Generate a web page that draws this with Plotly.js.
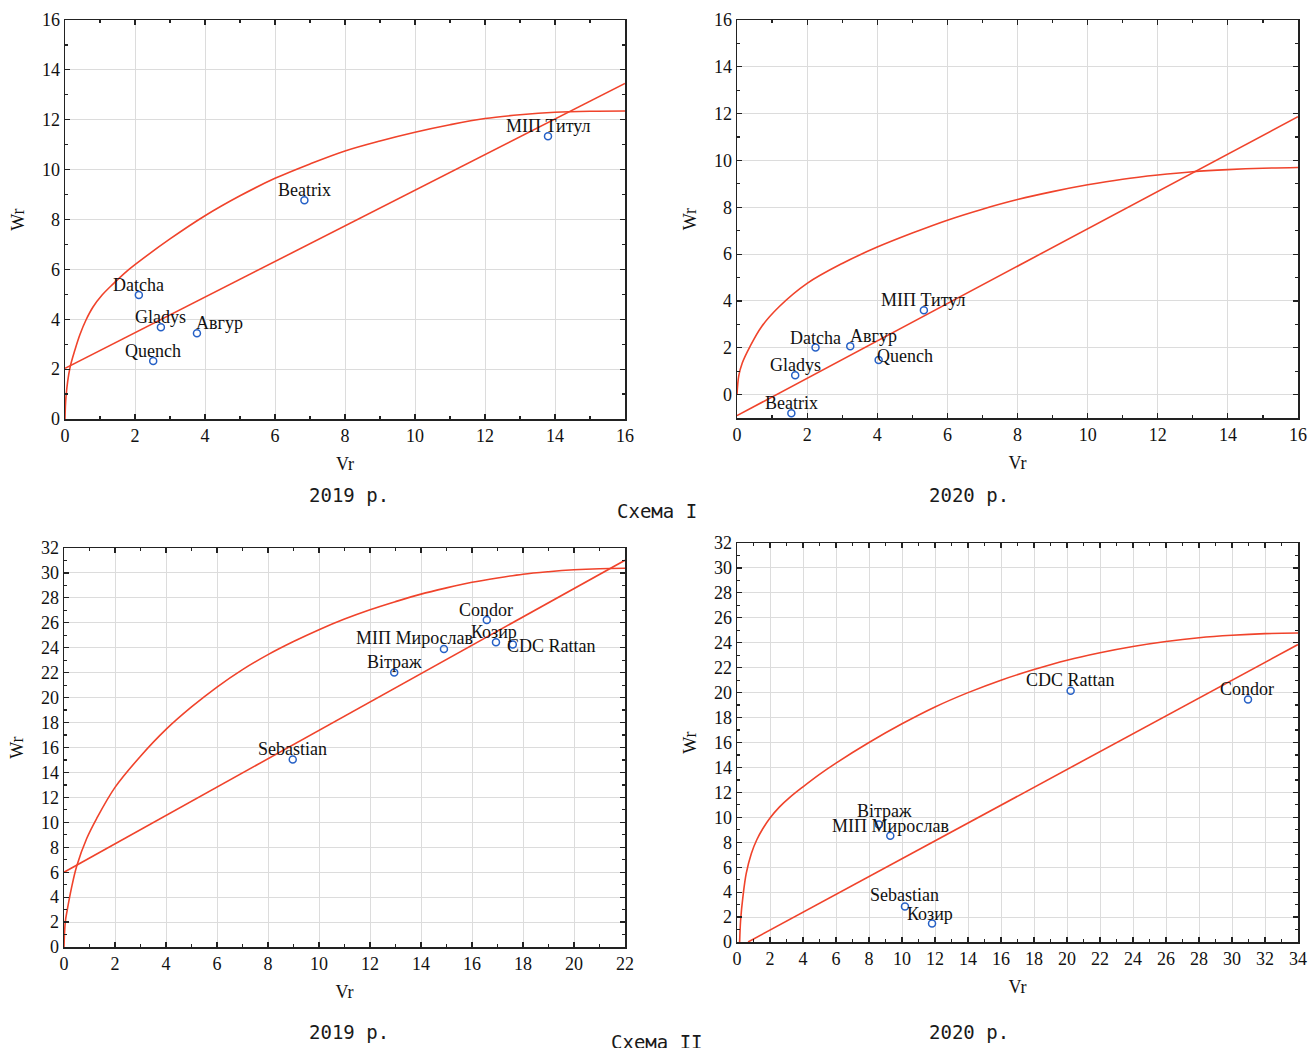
<!DOCTYPE html>
<html>
<head>
<meta charset="utf-8">
<script src="https://cdn.plot.ly/plotly-3.0.1.min.js"></script>
<style>
html,body{margin:0;padding:0;background:#fff;}
#chart{width:1309px;height:1048px;}
</style>
</head>
<body>
<div id="chart"></div>
<script>
// ---------- Data: Схема I, 2019 ----------
const s1_2019_names = ["Datcha", "Gladys", "Авгур", "Quench", "Beatrix", "МІП Титул"];
const s1_2019_vr = [2.11, 2.74, 3.77, 2.52, 6.84, 13.8];
const s1_2019_wr = [4.97, 3.68, 3.44, 2.33, 8.77, 11.34];
const s1_2019_lineV = [0, 16];
const s1_2019_lineW = [2.03, 13.46];
const s1_2019_curveV = [0, 0.03, 0.14, 0.29, 0.43, 0.6, 0.8, 1.06, 1.37, 1.77, 2.14, 3, 4, 5, 6, 7, 8, 9, 10, 11, 12, 13, 14, 15, 16];
const s1_2019_curveW = [0, 0.92, 2.04, 2.8, 3.4, 3.97, 4.49, 4.97, 5.41, 5.93, 6.34, 7.22, 8.15, 8.95, 9.65, 10.23, 10.75, 11.15, 11.5, 11.8, 12.05, 12.2, 12.3, 12.34, 12.35];

// ---------- Data: Схема I, 2020 ----------
const s1_2020_names = ["Datcha", "Авгур", "Gladys", "Quench", "МІП Титул", "Beatrix"];
const s1_2020_vr = [2.24, 3.23, 1.66, 4.04, 5.33, 1.55];
const s1_2020_wr = [2.01, 2.07, 0.83, 1.48, 3.6, -0.8];
const s1_2020_lineV = [0, 16];
const s1_2020_lineW = [-0.9, 11.87];
const s1_2020_curveV = [0, 0.05, 0.15, 0.37, 0.7, 1.2, 2, 3, 4, 5, 6, 7, 8, 9, 10, 11, 12, 13, 14, 15, 16];
const s1_2020_curveW = [0, 0.8, 1.35, 2.05, 2.9, 3.75, 4.75, 5.6, 6.3, 6.9, 7.45, 7.92, 8.33, 8.67, 8.96, 9.2, 9.38, 9.52, 9.61, 9.67, 9.7];

// ---------- Data: Схема II, 2019 ----------
const s2_2019_names = ["Sebastian", "Вітраж", "МІП Мирослав", "Condor", "Козир", "CDC Rattan"];
const s2_2019_vr = [8.97, 12.95, 14.9, 16.58, 16.94, 17.6];
const s2_2019_wr = [15.03, 22.02, 23.9, 26.23, 24.45, 24.26];
const s2_2019_lineV = [0, 22];
const s2_2019_lineW = [6.0, 31.02];
const s2_2019_curveV = [0, 0.05, 0.13, 0.3, 0.5, 0.89, 1.28, 2, 3, 4, 5, 6, 7, 8, 9, 10, 11, 12, 13, 14, 15, 16, 17, 18, 19, 20, 21, 22];
const s2_2019_curveW = [0, 2.0, 3.0, 4.8, 6.5, 8.7, 10.3, 12.8, 15.3, 17.45, 19.25, 20.85, 22.25, 23.45, 24.5, 25.45, 26.3, 27.05, 27.7, 28.3, 28.8, 29.25, 29.6, 29.9, 30.1, 30.25, 30.34, 30.38];

// ---------- Data: Схема II, 2020 ----------
const s2_2020_names = ["CDC Rattan", "Condor", "Вітраж", "МІП Мирослав", "Sebastian", "Козир"];
const s2_2020_vr = [20.22, 30.97, 8.6, 9.29, 10.18, 11.82];
const s2_2020_wr = [20.15, 19.45, 9.42, 8.52, 2.85, 1.48];
const s2_2020_lineV = [0.67, 34];
const s2_2020_lineW = [0, 23.86];
const s2_2020_curveV = [0.16, 0.22, 0.36, 0.56, 0.87, 1.2, 1.57, 2.0, 2.58, 3.2, 4, 5, 6, 8, 10, 12, 14, 16, 18, 20, 22, 24, 26, 28, 30, 32, 34];
const s2_2020_curveW = [0, 1.76, 3.64, 5.5, 7.1, 8.2, 9.1, 9.95, 10.84, 11.6, 12.45, 13.45, 14.35, 16.0, 17.5, 18.85, 20.0, 21.0, 21.85, 22.6, 23.2, 23.7, 24.1, 24.4, 24.6, 24.73, 24.78];

// ---------- Label offsets (px, styling only) ----------
const off_1_2019_dx = [0, 0, 23, 0, 0, 0];
const off_1_2019_dy = [10, 10, 10, 10, 10, 10];
const off_1_2020_dx = [0, 23, 0, 26, 0, 0];
const off_1_2020_dy = [10, 10, 10, 4, 10, 10];
const off_2_2019_dx = [0, 0, -29, -1, -2, 39];
const off_2_2019_dy = [11, 10, 11, 10, 10, -1];
const off_2_2020_dx = [0, -1, 6, 0, 0, -2];
const off_2_2020_dy = [11, 10, 14, 10, 11, 10];

const RED = '#f0432b';
const BLUE = '#2560c6';
const SERIF = 'Liberation Serif, Times New Roman, serif';
const MONO = 'DejaVu Sans Mono, monospace';

const panels = [
  {xa:'x',  ya:'y',  names:s1_2019_names, vr:s1_2019_vr, wr:s1_2019_wr, lv:s1_2019_lineV, lw:s1_2019_lineW, cv:s1_2019_curveV, cw:s1_2019_curveW, dx:off_1_2019_dx, dy:off_1_2019_dy},
  {xa:'x2', ya:'y2', names:s1_2020_names, vr:s1_2020_vr, wr:s1_2020_wr, lv:s1_2020_lineV, lw:s1_2020_lineW, cv:s1_2020_curveV, cw:s1_2020_curveW, dx:off_1_2020_dx, dy:off_1_2020_dy},
  {xa:'x3', ya:'y3', names:s2_2019_names, vr:s2_2019_vr, wr:s2_2019_wr, lv:s2_2019_lineV, lw:s2_2019_lineW, cv:s2_2019_curveV, cw:s2_2019_curveW, dx:off_2_2019_dx, dy:off_2_2019_dy},
  {xa:'x4', ya:'y4', names:s2_2020_names, vr:s2_2020_vr, wr:s2_2020_wr, lv:s2_2020_lineV, lw:s2_2020_lineW, cv:s2_2020_curveV, cw:s2_2020_curveW, dx:off_2_2020_dx, dy:off_2_2020_dy}
];

const traces = [];
const annotations = [];
panels.forEach(p => {
  traces.push({x:p.cv, y:p.cw, xaxis:p.xa, yaxis:p.ya, mode:'lines', line:{color:RED, width:1.6, shape:'spline', smoothing:1}, hoverinfo:'skip', showlegend:false});
  traces.push({x:p.lv, y:p.lw, xaxis:p.xa, yaxis:p.ya, mode:'lines', line:{color:RED, width:1.6}, hoverinfo:'skip', showlegend:false});
  traces.push({x:p.vr, y:p.wr, xaxis:p.xa, yaxis:p.ya, mode:'markers', text:p.names,
    marker:{symbol:'circle-open', size:7, color:BLUE, line:{width:1.5, color:BLUE}}, showlegend:false, cliponaxis:false});
  p.names.forEach((n, i) => {
    annotations.push({xref:p.xa, yref:p.ya, x:p.vr[i], y:p.wr[i], text:n, showarrow:false,
      xanchor:'center', yanchor:'middle', xshift:p.dx[i], yshift:p.dy[i],
      font:{family:SERIF, size:18, color:'#111'}});
  });
});

const captions = [
  {t:'2019 р.', x:0.2666, y:1-495/1048},
  {t:'Схема I', x:0.5019, y:1-511/1048},
  {t:'2020 р.', x:0.7403, y:1-495/1048},
  {t:'2019 р.', x:0.2666, y:1-1032/1048},
  {t:'Схема II', x:0.5019, y:1-1042/1048},
  {t:'2020 р.', x:0.7403, y:1-1032/1048}
];
captions.forEach(c => annotations.push({xref:'paper', yref:'paper', x:c.x, y:c.y, text:c.t, showarrow:false,
  xanchor:'center', yanchor:'middle', font:{family:MONO, size:19, color:'#1a1a1a'}}));

function xax(dom, range, dtick, anchor) {
  return {domain:dom, range:range, anchor:anchor, dtick:dtick, tick0:0,
    ticks:'inside', ticklen:5, tickwidth:1.2, tickcolor:'#222',
    showline:true, linecolor:'#222', linewidth:1.5, mirror:'ticks',
    showgrid:true, gridcolor:'#dcdcdc', gridwidth:1, zeroline:false,
    minor:{dtick:dtick/2, tick0:0, ticks:'inside', ticklen:3, tickcolor:'#222', showgrid:false},
    tickfont:{family:SERIF, size:18, color:'#111'},
    title:{text:'Vr', font:{family:SERIF, size:18, color:'#111'}, standoff:12},
    fixedrange:true};
}
function yax(dom, range, dtick, anchor) {
  const a = xax(dom, range, dtick, anchor);
  a.title = {text:'Wr', font:{family:SERIF, size:18, color:'#111'}, standoff:12};
  return a;
}

const layout = {
  width:1309, height:1048,
  margin:{l:0, r:0, t:0, b:0},
  paper_bgcolor:'#fff', plot_bgcolor:'#fff',
  showlegend:false,
  xaxis:  xax([65/1309, 625/1309], [0, 16], 2, 'y'),
  yaxis:  yax([1-419/1048, 1-20/1048], [0, 16], 2, 'x'),
  xaxis2: xax([737/1309, 1298/1309], [0, 16], 2, 'y2'),
  yaxis2: yax([1-418/1048, 1-20/1048], [-1, 16], 2, 'x2'),
  xaxis3: xax([64/1309, 625/1309], [0, 22], 2, 'y3'),
  yaxis3: yax([1-947/1048, 1-548/1048], [0, 32], 2, 'x3'),
  xaxis4: xax([737/1309, 1298/1309], [0, 34], 2, 'y4'),
  yaxis4: yax([1-942/1048, 1-543/1048], [0, 32], 2, 'x4'),
  annotations:annotations
};

Plotly.newPlot('chart', traces, layout, {displayModeBar:false, staticPlot:true});
</script>
</body>
</html>
